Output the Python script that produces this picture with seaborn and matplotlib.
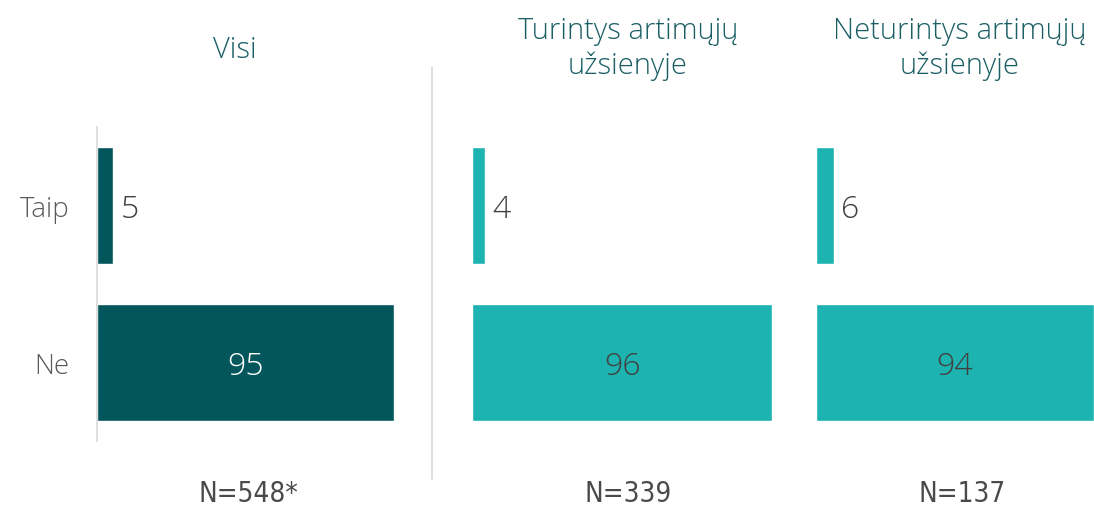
import matplotlib
matplotlib.use("Agg")
import matplotlib.pyplot as plt
import seaborn as sns
import pandas as pd

# duomenys
answers = ["Taip", "Ne"]
visi = [5, 95]
turintys = [4, 96]
neturintys = [6, 94]
titles = ["Visi", "Turintys artimųjų\nužsienyje", "Neturintys artimųjų\nužsienyje"]
n_labels = ["N=548*", "N=339", "N=137"]

dark = "#03565B"
light = "#1DB3B0"
title_col = "#1B5F65"
grey = "#595959"

sns.set_theme(style="white")
plt.rcParams["font.family"] = ["Open Sans", "DejaVu Sans"]

fig = plt.figure(figsize=(10.94, 5.10), dpi=100)

W, H = 1094, 510
bottom = 1 - 442 / H
height = 314 / H
# left px, right px, xmax
boxes = [(97, 410, 100), (472, 785, 100), (816, 1094, 94)]
series = [visi, turintys, neturintys]
colors = [dark, light, light]
inside_col = ["white", "#404040", "#404040"]

axes = []
for i, (l, r, xmax) in enumerate(boxes):
    ax = fig.add_axes([l / W, bottom, (r - l) / W, height])
    df = pd.DataFrame({"ans": answers, "val": series[i]})
    sns.barplot(data=df, x="val", y="ans", ax=ax, color=colors[i],
                saturation=1, width=0.745, orient="h")
    ax.set_xlim(0, xmax)
    ax.set_ylim(1.5, -0.5)
    ax.set_xlabel("")
    ax.set_ylabel("")
    ax.set_xticks([])
    for s in ["top", "right", "bottom"]:
        ax.spines[s].set_visible(False)
    if i == 0:
        ax.spines["left"].set_color("#D9D9D9")
        ax.spines["left"].set_linewidth(1.2)
        ax.tick_params(axis="y", length=0, pad=20, labelsize=20, labelcolor=grey)
        for t in ax.get_yticklabels():
            t.set_fontweight("light")
    else:
        ax.spines["left"].set_visible(False)
        ax.set_yticks([])
    # etiketės
    small, big = series[i]
    ax.text(small + 2.5, 0.02, str(small), va="center", ha="left",
            fontsize=23, color="#404040", fontweight="light")
    ax.text(big / 2, 1.02, str(big), va="center", ha="center",
            fontsize=23, color=inside_col[i], fontweight="light")
    axes.append(ax)

# antraštės
fig.text(235 / W, 1 - 50 / H, titles[0], ha="center", va="center",
         fontsize=21, color=title_col, fontweight="light")
fig.text(628 / W, 1 - 49 / H, titles[1], ha="center", va="center",
         fontsize=21, color=title_col, fontweight="light", linespacing=1.25)
fig.text(960 / W, 1 - 49 / H, titles[2], ha="center", va="center",
         fontsize=21, color=title_col, fontweight="light", linespacing=1.25)

# N
for x, lab in zip([248, 628, 962], n_labels):
    fig.text(x / W, 1 - 494 / H, lab, ha="center", va="center", fontsize=20,
             color="#4A4A4A", family="DejaVu Sans", fontstretch="condensed",
             fontweight="light")

# skiriamoji linija
fig.add_artist(plt.Line2D([432 / W, 432 / W], [1 - 480 / H, 1 - 68 / H],
                          color="#D9D9D9", linewidth=1.2))

fig.savefig("out.png", dpi=100, facecolor="white")
